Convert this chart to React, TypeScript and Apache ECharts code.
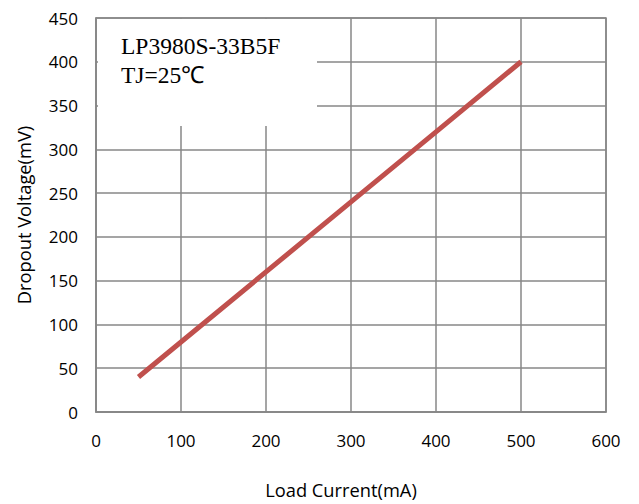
import React, { useEffect, useRef } from "react";
import * as echarts from "echarts";

const loadCurrent = [50, 100, 200, 300, 400, 500];
const dropoutVoltage = [40, 80, 160, 240, 320, 400];
const titleLines = ["LP3980S-33B5F", "TJ=25℃"];

export default function App() {
  const ref = useRef<HTMLDivElement>(null);
  useEffect(() => {
    if (!ref.current) return;
    const chart = echarts.init(ref.current, null, { renderer: "svg" });
    const gridColor = "#878787";
    const fontFamily = "Open Sans, Liberation Sans, sans-serif";
    const axisFont = { color: "#000", fontSize: 17, fontFamily };
    const nameFont = { color: "#000", fontSize: 18.3, fontFamily };
    chart.setOption({
      animation: false,
      backgroundColor: "#fff",
      grid: {
        left: 96,
        right: 33,
        top: 18,
        bottom: 92,
        show: true,
        borderColor: gridColor,
        borderWidth: 1.5,
        backgroundColor: "transparent",
      },
      xAxis: {
        type: "value",
        min: 0,
        max: 600,
        interval: 100,
        name: "Load Current(mA)",
        nameLocation: "middle",
        nameGap: 68,
        nameTextStyle: { ...nameFont, padding: [0, 20, 0, 0] },
        axisLine: { show: true, lineStyle: { color: gridColor, width: 1.5 } },
        axisTick: { show: false },
        axisLabel: { ...axisFont, margin: 20 },
        splitLine: { show: true, lineStyle: { color: gridColor, width: 1.5 } },
      },
      yAxis: {
        type: "value",
        min: 0,
        max: 450,
        interval: 50,
        name: "Dropout Voltage(mV)",
        nameLocation: "middle",
        nameGap: 64,
        nameTextStyle: { ...nameFont },
        axisLine: { show: true, lineStyle: { color: gridColor, width: 1.5 } },
        axisTick: { show: false },
        axisLabel: { ...axisFont, margin: 18 },
        splitLine: { show: true, lineStyle: { color: gridColor, width: 1.5 } },
      },
      graphic: [
        {
          type: "rect",
          left: 98,
          top: 19,
          shape: { width: 219, height: 107 },
          style: { fill: "#fff" },
          z: 1,
        },
        {
          type: "text",
          left: 121,
          top: 31,
          style: {
            text: titleLines.join("\n"),
            fill: "#000",
            fontSize: 23.5,
            lineHeight: 29,
            fontFamily: "Liberation Serif, Times New Roman, serif",
          },
          z: 2,
        },
      ],
      series: [
        {
          type: "line",
          data: loadCurrent.map((x, i) => [x, dropoutVoltage[i]]),
          showSymbol: false,
          symbol: "none",
          lineStyle: { color: "#C0504D", width: 5 },
          z: 5,
        },
      ],
    });
    return () => chart.dispose();
  }, []);
  return (
    <div
      ref={ref}
      style={{ position: "fixed", left: 0, top: 0, width: 639, height: 504 }}
    />
  );
}
